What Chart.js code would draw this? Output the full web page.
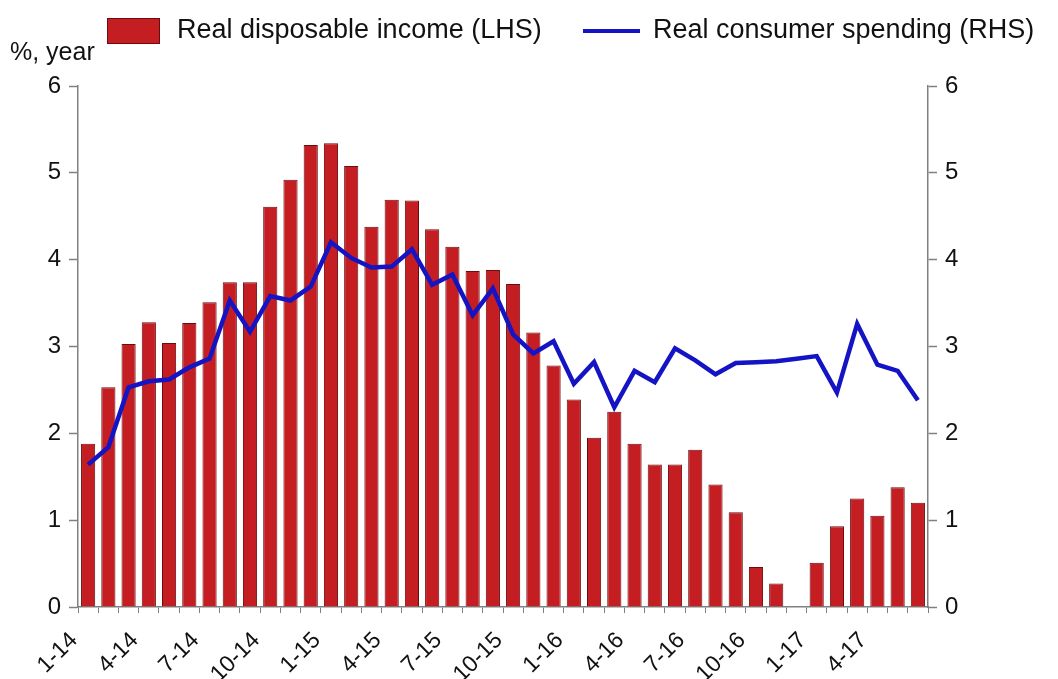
<!DOCTYPE html>
<html>
<head>
<meta charset="utf-8">
<script src="https://cdn.jsdelivr.net/npm/chart.js@4.4.1/dist/chart.umd.min.js"></script>
<style>
    body { margin: 0; background: #fff; font-family: "Liberation Sans", Arial, sans-serif; color: #111; }
    .wrap { position: relative; width: 1058px; height: 679px; }
    .unit { position: absolute; left: 10px; top: 37px; font-size: 25px; }
    .legend { position: absolute; top: 14px; left: 107px; font-size: 27px; white-space: nowrap; }
    .legend span { position: absolute; top: 0; }
    .box { position: absolute; left: 0; top: 4px; width: 53px; height: 26px; background: #c41d22; border: 1px solid #6b0c0e; box-sizing: border-box; }
    .ln { position: absolute; left: 476px; top: 15px; width: 57px; height: 4px; background: #1414c4; }
</style>
</head>
<body>
<div class="wrap">
    <canvas id="chart" width="1058" height="679"></canvas>
    <div class="unit">%, year</div>
    <div class="legend">
        <div class="box"></div>
        <span style="left:70px">Real disposable income (LHS)</span>
        <div class="ln"></div>
        <span style="left:546px">Real consumer spending (RHS)</span>
    </div>
</div>
<script>
// months 1-14 .. 6-17
const months = [
    '1-14', '2-14', '3-14', '4-14', '5-14', '6-14', '7-14', '8-14', '9-14', '10-14', '11-14', '12-14',
    '1-15', '2-15', '3-15', '4-15', '5-15', '6-15', '7-15', '8-15', '9-15', '10-15', '11-15', '12-15',
    '1-16', '2-16', '3-16', '4-16', '5-16', '6-16', '7-16', '8-16', '9-16', '10-16', '11-16', '12-16',
    '1-17', '2-17', '3-17', '4-17', '5-17', '6-17'
];

const disposableIncome = [
    1.88, 2.53, 3.03, 3.28, 3.04, 3.27, 3.51, 3.74, 3.74, 4.61, 4.92, 5.32,
    5.34, 5.08, 4.38, 4.69, 4.68, 4.35, 4.15, 3.87, 3.88, 3.72, 3.16, 2.78,
    2.39, 1.95, 2.25, 1.88, 1.64, 1.64, 1.81, 1.41, 1.09, 0.46, 0.27, 0,
    0.51, 0.93, 1.25, 1.05, 1.38, 1.20
];

const consumerSpending = [
    1.64, 1.84, 2.53, 2.60, 2.62, 2.76, 2.86, 3.53, 3.17, 3.58, 3.53, 3.69,
    4.20, 4.02, 3.91, 3.92, 4.12, 3.71, 3.83, 3.36, 3.67, 3.14, 2.92, 3.06,
    2.57, 2.82, 2.30, 2.72, 2.59, 2.98, 2.84, 2.68, 2.81, 2.82, 2.83, 2.86,
    2.89, 2.47, 3.26, 2.79, 2.72, 2.38
];

const yTicks = [0, 1, 2, 3, 4, 5, 6];

const axisGrey = '#808080';
const tickFont = { family: '"Liberation Sans", Arial, sans-serif', size: 24 };

function yAxis(position, width) {
    return {
        position: position,
        min: yTicks[0],
        max: yTicks[yTicks.length - 1],
        afterBuildTicks: (scale) => { scale.ticks = yTicks.map((v) => ({ value: v })); },
        afterFit: (scale) => { scale.width = width; },
        border: { display: true, color: axisGrey, width: 1.5 },
        grid: { drawOnChartArea: false, drawTicks: true, tickLength: 9, tickColor: axisGrey, tickWidth: 1.5 },
        ticks: { color: '#111', font: tickFont, padding: 8 }
    };
}

new Chart(document.getElementById('chart').getContext('2d'), {
    data: {
        labels: months,
        datasets: [{
            type: 'line',
            label: 'Real consumer spending (RHS)',
            data: consumerSpending,
            yAxisID: 'yRight',
            borderColor: '#1414c4',
            borderWidth: 4.5,
            pointRadius: 0,
            tension: 0,
            order: 0
        }, {
            type: 'bar',
            label: 'Real disposable income (LHS)',
            data: disposableIncome,
            yAxisID: 'yLeft',
            backgroundColor: '#c41d22',
            borderColor: '#6b0c0e',
            borderWidth: 1,
            barPercentage: 0.7,
            categoryPercentage: 1,
            order: 1
        }]
    },
    options: {
        responsive: false,
        animation: false,
        layout: { padding: { top: 86, bottom: 0, left: 0, right: 0 } },
        plugins: { legend: { display: false }, tooltip: { enabled: false } },
        scales: {
            x: {
                offset: true,
                afterFit: (scale) => { scale.height = 72; },
                border: { display: true, color: axisGrey, width: 1.5 },
                grid: { drawOnChartArea: false, offset: true, tickLength: 6, tickColor: axisGrey },
                ticks: {
                    autoSkip: false,
                    maxRotation: 45,
                    minRotation: 45,
                    padding: 14,
                    labelOffset: -14,
                    color: '#111',
                    font: { family: '"Liberation Sans", Arial, sans-serif', size: 23 },
                    callback: function (value, index) {
                        return index % 3 === 0 ? months[index] : '';
                    }
                }
            },
            yLeft: yAxis('left', 78),
            yRight: yAxis('right', 130)
        }
    }
});
</script>
</body>
</html>
